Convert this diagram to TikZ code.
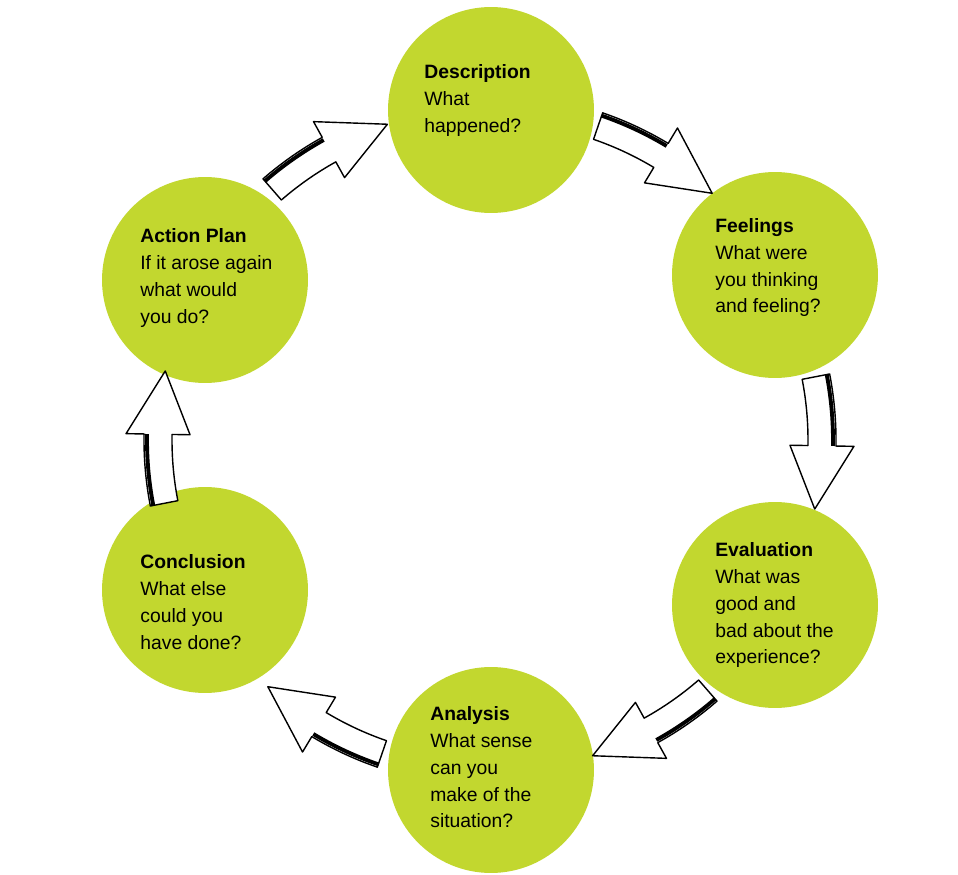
\documentclass[tikz,border=0pt]{standalone}
\usepackage{fontspec}
\setmainfont{Liberation Sans}
\definecolor{lime}{HTML}{C2D72F}
\begin{document}
\begin{tikzpicture}[x=0.02cm,y=-0.02cm,
  stage/.style={circle,fill=lime,minimum size=4.12cm,inner sep=0pt},
  txt/.style={anchor=north west,align=left,inner sep=0pt,font=\fontsize{11}{15.3}\selectfont},
  arr/.style={draw=black,fill=white,line width=0.8pt,line join=round}]
\useasboundingbox (0,0) rectangle (958,875);
\coordinate (c) at (490,440);
\node[stage] (d) at (491,110) {};
\node[stage] (f) at (775,275) {};
\node[stage] (e) at (775,605) {};
\node[stage] (a) at (491,770) {};
\node[stage] (k) at (205,590) {};
\node[stage] (p) at (205,280) {};
\node[txt] (dt) at (424,64) {\textbf{Description}\\What\\happened?};
\node[txt] (ft) at (715,218) {\textbf{Feelings}\\What were\\you thinking\\and feeling?};
\node[txt] (et) at (715,542) {\textbf{Evaluation}\\What was\\good and\\bad about the\\experience?};
\node[txt] (at) at (430,706) {\textbf{Analysis}\\What sense\\can you\\make of the\\situation?};
\node[txt] (kt) at (140,554) {\textbf{Conclusion}\\What else\\could you\\have done?};
\node[txt] (pt) at (140,228) {\textbf{Action Plan}\\If it arose again\\what would\\you do?};
\foreach \m in {-60,0,60,120,180,240}{
  \pgfmathsetmacro\ao{\m-11}
  \pgfmathsetmacro\ai{\m+1}
  \pgfmathsetmacro\at{\m+12}
  \draw[arr] ([shift={(c)}]\ao:318) arc[start angle=\ao,end angle=\ai,radius=318]
    -- ([shift={(c)}]\ai:300) -- ([shift={(c)}]\at:332) -- ([shift={(c)}]\ai:364)
    -- ([shift={(c)}]\ai:346) arc[start angle=\ai,end angle=\ao,radius=346] -- cycle;
  \draw[line width=2.2pt] ([shift={(c)}]\ao:343) arc[start angle=\ao,end angle=\ai,radius=343];
}
\end{tikzpicture}
\end{document}
